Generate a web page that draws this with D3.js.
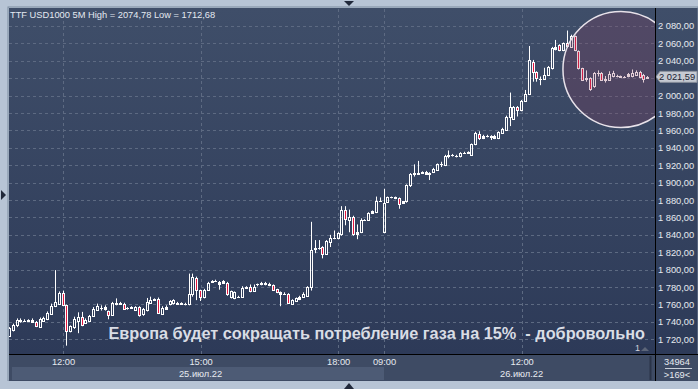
<!DOCTYPE html>
<html>
<head>
<meta charset="utf-8">
<script src="https://cdn.jsdelivr.net/npm/d3@7"></script>
<style>
  body { margin: 0; background: #b7c4d5; }
  svg { display: block; font-family: "Liberation Sans", Arial, sans-serif; }
</style>
</head>
<body>
<svg id="chart" width="698" height="389"></svg>
<script>
// OHLC, 5 minute candles, 25-26 Jul 2022
const opens = [1724,1731,1736,1741,1741.5,1741,1740,1740,1734,1741,1743,1749,1758.5,1761,1773,1759,1730,1734,1741,1745.5,
  1739,1741,1747,1754,1756,1754.5,1752,1748,1760,1761.5,1760,1756,1756,1754,1757,1748.5,1754,1762,1765,1766,
  1749.5,1755,1760,1761.5,1762,1761,1761,1760,1772,1791,1776.5,1769,1777,1786,1787,1783.5,1785,1785,1769,1768,
  1769,1769,1779.5,1780,1776,1783,1783,1783,1782,1782,1777.5,1774,1772,1771.5,1761,1764,1766,1769,1770,1780,
  1824,1825,1825.5,1818.5,1832,1836,1836,1840.5,1869,1857,1861,1840.5,1843.5,1857,1857,1865,1866.5,1879,1843.5,1878,
  1883,1883,1882,1876.5,1878.5,1897,1910,1911,1911,1912.5,1910.5,1912.5,1915,1921,1920,1931,1932,1931,1930.5,1934,
  1934.5,1932,1944,1955.5,1951,1953.5,1953.5,1954,1951.5,1957,1961,1975,1973,1987,1983,1994,2002,2039,2027.5,2019,
  2019,2024,2031.5,2053,2058,2052.5,2060,2056,2068.5,2051.5,2031.5,2019,2020,2011,2025.5,2025.5,2018.5,2018.5,2022.5,2022.5,
  2022,2021.5,2022,2022,2024,2027.5,2023.5,2020];
const highs = [1734,1738,1744,1744,1743,1743,1744,1741,1745,1746,1752,1761,1799.5,1775,1776,1760,1736,1746,1751,1751.5,
  1744,1748,1757,1761,1759,1759,1753,1763,1767,1763,1762,1757,1758,1758,1758,1756,1767.5,1769,1767,1768,
  1758,1759,1765,1766,1763,1762.5,1762,1795.5,1795.5,1792,1777,1778,1786,1788,1788.5,1787,1788,1786,1776,1775,
  1770,1781,1781,1783,1783,1784,1786,1786,1785,1783,1778,1775,1774,1773,1766,1768,1770,1774,1781,1855,
  1834,1834,1827,1834,1840,1845,1843,1873,1873,1869,1862,1852,1859,1858,1866,1868,1884,1883,1893,1884,
  1884,1884,1883,1879,1898,1911,1921,1925,1913,1913.5,1912,1917,1922,1924,1932,1937,1933,1932,1935,1935.5,
  1936,1945,1958.5,1959,1955,1955,1954.5,1955,1959,1963,1977,2003.5,1988,1988,1995,2006.5,2057,2041,2028,2022,
  2032,2034,2056,2064,2059,2061,2074.78,2070,2069,2052,2032,2029,2021,2027,2029,2027,2022.5,2028,2028.5,2024,
  2023,2022.5,2026,2030,2029,2028.5,2025,2022.5];
const lows = [1723,1729,1734,1739,1740,1740,1739,1734,1733,1740,1742,1748,1757,1760,1758,1712.68,1728,1732,1727,1735,
  1738,1740,1746,1753,1753,1753,1743,1747,1759,1760,1754,1754,1755,1753,1746,1747,1752,1761,1764,1749,
  1748,1754,1759,1760,1760,1760,1759,1759,1769,1765,1764,1767,1776,1785,1786,1777,1784,1770,1767,1766,
  1768,1768,1778,1774,1775,1781,1782,1782,1781,1776,1773,1758,1771,1761,1760,1763,1765,1768,1769,1776,
  1819,1823,1813,1817,1826,1835,1835,1839,1851,1843,1839,1835,1842,1856,1856,1864,1865,1878,1842,1877,
  1882,1881,1870,1876,1877,1895,1907,1910,1910,1909,1903,1911,1914,1918,1919,1928,1930,1929,1929,1933,
  1933,1931,1943,1949,1950,1952,1949,1950,1950,1956,1960,1965,1972,1976,1982,1993,2001,2016,2016,2012,
  2018,2023,2030,2052,2051,2051,2055,2055,2051,2030,2017,2016,2005.5,2009,2022,2017,2015,2017,2021,2021,
  2020.5,2020,2021,2021,2023,2020,2015,2019.5];
const closes = [1733,1736,1742.5,1742,1741.5,1742,1742,1735.5,1743,1744,1750,1758,1763,1773,1759,1729.5,1735,1743,1745.5,1736,
  1742,1747,1755,1758,1756.5,1757,1748,1761.5,1762,1761,1755,1756,1757,1757,1748,1754.5,1763,1765,1766,1750.5,
  1756.5,1757,1764,1765,1761,1761.5,1760,1772,1792,1776.5,1769,1777,1785,1787,1787.5,1785.5,1787,1771.5,1775,1774,
  1769,1779.5,1780,1775,1780,1783,1785,1785,1784,1777,1774.5,1771.5,1772.5,1762,1765,1767,1769,1771.5,1780,1823,
  1824.5,1825,1818.5,1833,1836,1836.5,1842,1869,1858,1861,1840.5,1843.5,1857,1857,1865,1867,1879,1879,1877,1883,
  1883,1882.5,1876,1878.5,1897,1910,1911,1910.5,1912,1910,1911,1916,1921,1921,1930.5,1932,1931.5,1930.5,1934,1934.5,
  1935,1944,1956.5,1951,1954,1953.5,1953,1951,1958,1962,1975,1986.5,1987,1983,1994,2002,2041,2027.5,2020,2019,
  2024,2032.5,2054.5,2056,2052.5,2060,2057,2068.5,2052.5,2031.5,2018.5,2020,2008,2025.5,2026,2018.5,2019,2025,2025.5,2022.5,
  2021.5,2021,2025,2026,2027.5,2021,2019,2021.59];

// session times: 25 Jul from 10:50, 26 Jul from 09:00
const pad = n => String(n).padStart(2, '0');
const times = [];
for (let m = 10 * 60 + 50; m < 19 * 60; m += 5) times.push('25 ' + pad(Math.floor(m / 60)) + ':' + pad(m % 60));
for (let m = 9 * 60; m < 14 * 60 + 50; m += 5) times.push('26 ' + pad(Math.floor(m / 60)) + ':' + pad(m % 60));

const timeTicks = ['25 12:00', '25 15:00', '25 18:00', '26 09:00', '26 12:00'];
const dateLabels = [{t: '25 15:00', label: '25.июл.22'}, {t: '26 12:00', label: '26.июл.22'}];
const priceTicks = d3.range(1720, 2081, 20);
const title = 'TTF USD1000 5M High = 2074,78 Low = 1712,68';
const headline = 'Европа будет сокращать потребление газа на 15%  - добровольно';
const lastPrice = 2021.59;

const data = times.map((t, i) => ({t, o: opens[i], h: highs[i], l: lows[i], c: closes[i]}));

const W = 698, H = 389;
const margin = {top: 8, left: 9, right: 43, bottom: 35};
const width = W - margin.left - margin.right;   // 646
const height = H - margin.top - margin.bottom;  // 346

const fmt = d3.formatLocale({decimal: ',', thousands: '\u00a0', grouping: [3], currency: ['', '']}).format(',.2f');

const svg = d3.select('#chart');
const defs = svg.append('defs');
const grad = defs.append('linearGradient').attr('id', 'bg').attr('x1', 0).attr('y1', 0).attr('x2', 0).attr('y2', 1);
grad.append('stop').attr('offset', 0).attr('stop-color', '#3f4e69');
grad.append('stop').attr('offset', 1).attr('stop-color', '#2d3a58');
defs.append('clipPath').attr('id', 'plotclip')
  .append('rect').attr('width', width).attr('height', height);

// frame
svg.append('rect').attr('width', W).attr('height', H).attr('fill', '#b7c4d5');
svg.append('rect').attr('x', margin.left).attr('y', margin.top).attr('width', W - margin.left).attr('height', height)
  .attr('fill', 'url(#bg)');
svg.append('rect').attr('x', margin.left - 1).attr('y', margin.top - 1).attr('width', W - margin.left + 1).attr('height', 374)
  .attr('fill', 'none').attr('stroke', '#7d8ba0');

// frame arrows
svg.append('path').attr('d', 'M344,1 L354,1 L349,6 Z').attr('fill', '#20283a');
svg.append('path').attr('d', 'M1,190 L1,200 L6,195 Z').attr('fill', '#20283a');

const chart = svg.append('g').attr('transform', `translate(${margin.left},${margin.top})`);

const x = d3.scalePoint().domain(times).range([0.5, 638.7]);
const y = d3.scaleLinear().domain([1720, 2080]).range([331.3, 18]);

// grid
chart.append('g').attr('class', 'y-grid')
  .call(d3.axisLeft(y).tickValues(priceTicks).tickSize(-width).tickFormat(''));
const xGrid = chart.append('g').attr('class', 'x-grid').attr('transform', `translate(0,${height})`)
  .call(d3.axisBottom(x).tickValues(timeTicks).tickSize(height).tickSizeOuter(0).tickFormat(''));
xGrid.selectAll('line').attr('y2', -height);
chart.selectAll('.y-grid line, .x-grid line')
  .attr('stroke', '#5d6a82').attr('stroke-dasharray', '3,3').attr('shape-rendering', 'crispEdges');
chart.selectAll('.y-grid .domain, .x-grid .domain').remove();

// candles
const plot = chart.append('g').attr('clip-path', 'url(#plotclip)');
const candles = plot.selectAll('.candle').data(data).join('g').attr('class', 'candle');
candles.each(function (d) {
  const g = d3.select(this);
  const px = Math.floor(x(d.t)) + 0.5;
  const top = Math.round(y(Math.max(d.o, d.c)));
  const bot = Math.round(y(Math.min(d.o, d.c)));
  const up = d.c >= d.o;
  const wick = (a, b) => g.append('line').attr('x1', px).attr('x2', px).attr('y1', a).attr('y2', b)
    .attr('stroke', '#fff').attr('stroke-width', 1);
  wick(y(d.h), top + 0.5);
  wick(bot + 0.5, y(d.l));
  if (bot - top < 1) {
    g.append('line').attr('x1', px - 1.5).attr('x2', px + 1.5).attr('y1', top + 0.5).attr('y2', top + 0.5)
      .attr('stroke', '#fff');
  } else if (bot - top <= 2) {
    g.append('rect').attr('x', px - 1.5).attr('y', top).attr('width', 3).attr('height', bot - top + 1)
      .attr('fill', '#fff');
  } else {
    g.append('rect').attr('x', px - 1).attr('y', top + 0.5).attr('width', 2).attr('height', bot - top)
      .attr('fill', up ? 'none' : '#e3163f').attr('stroke', '#fff').attr('stroke-width', 1);
  }
});

// highlight circle
plot.append('circle')
  .attr('cx', x(times[160])).attr('cy', y(2030)).attr('r', 58)
  .attr('fill', 'rgb(138,60,90)').attr('fill-opacity', 0.25)
  .attr('stroke', '#e8e2ea').attr('stroke-width', 1.5);

// title and headline
chart.append('text').attr('x', 1).attr('y', 10).attr('fill', '#e4e9f1').attr('font-size', 9.3).text(title);
chart.append('text').attr('x', 636).attr('y', 331).attr('text-anchor', 'end').style('white-space', 'pre')
  .attr('fill', '#d9dde5').attr('font-size', 16.3).attr('font-weight', 'bold').text(headline);
chart.append('text').attr('x', 626).attr('y', 343).attr('fill', '#d0d4dc').attr('font-size', 9).text('1');
chart.append('path').attr('d', 'M632,343 L640,343 L636,339 Z').attr('fill', '#5c6578');

// right price axis (tick hidden behind last price marker)
const ly = margin.top + y(lastPrice);
const yAxisG = svg.append('g').attr('transform', `translate(${margin.left + width},${margin.top})`)
  .call(d3.axisRight(y).tickValues(priceTicks.filter(v => Math.abs(y(v) - y(lastPrice)) > 9))
    .tickSize(0).tickPadding(3).tickFormat(fmt));
yAxisG.select('.domain').remove();
yAxisG.selectAll('text').attr('fill', '#e6eaf0').attr('font-size', 9.3).attr('font-family', '"Liberation Sans", Arial, sans-serif');

// last price marker
svg.append('path')
  .attr('d', `M${margin.left + width + 1},${ly} L${margin.left + width + 5},${ly - 5.5} L697,${ly - 5.5} L697,${ly + 5.5} L${margin.left + width + 5},${ly + 5.5} Z`)
  .attr('fill', '#c6cad2').attr('stroke', '#8a909c');
svg.append('text').attr('x', margin.left + width + 4).attr('y', ly).attr('dy', '0.35em')
  .attr('fill', '#1b2232').attr('font-size', 9.3).text(fmt(lastPrice));

// bottom time axis
const axisTop = margin.top + height;
svg.append('rect').attr('x', margin.left).attr('y', axisTop).attr('width', W - margin.left).attr('height', 27)
  .attr('fill', '#3e4b64');
svg.append('rect').attr('x', 12).attr('y', axisTop + 13).attr('width', margin.left + x('26 09:00') - 12).attr('height', 13)
  .attr('fill', '#4d5b75');
const xAxisG = svg.append('g').attr('transform', `translate(${margin.left},${axisTop})`)
  .call(d3.axisBottom(x).tickValues(timeTicks).tickSize(0).tickPadding(4).tickFormat(t => t.slice(3)));
xAxisG.select('.domain').remove();
xAxisG.selectAll('text').attr('fill', '#e6eaf0').attr('font-size', 9.3).attr('font-family', '"Liberation Sans", Arial, sans-serif');
svg.append('g').selectAll('text').data(dateLabels).join('text')
  .attr('x', d => margin.left + x(d.t)).attr('y', axisTop + 23).attr('text-anchor', 'middle')
  .attr('fill', '#e6eaf0').attr('font-size', 9.3).text(d => d.label);

// separators
svg.append('line').attr('x1', margin.left).attr('x2', W).attr('y1', axisTop + 0.5).attr('y2', axisTop + 0.5)
  .attr('stroke', '#000');
svg.append('line').attr('x1', margin.left + width + 0.5).attr('x2', margin.left + width + 0.5)
  .attr('y1', margin.top).attr('y2', axisTop + 27).attr('stroke', '#000');
svg.append('line').attr('x1', 650.5).attr('x2', 650.5).attr('y1', axisTop + 2).attr('y2', axisTop + 26)
  .attr('stroke', '#2a3448').attr('stroke-width', 2);
svg.append('rect').attr('x', 0).attr('y', axisTop + 27).attr('width', W).attr('height', H - axisTop - 27)
  .attr('fill', '#b7c4d5');
svg.append('path').attr('d', 'M344,389 L354,389 L349,383 Z').attr('fill', '#20283a');

// bars counter box
svg.append('text').attr('x', 677).attr('y', axisTop + 11).attr('text-anchor', 'middle')
  .attr('fill', '#e6eaf0').attr('font-size', 9.3).text('34964');
svg.append('line').attr('x1', 665).attr('x2', 692).attr('y1', axisTop + 14.5).attr('y2', axisTop + 14.5)
  .attr('stroke', '#c8ced8');
svg.append('text').attr('x', 677).attr('y', axisTop + 24).attr('text-anchor', 'middle')
  .attr('fill', '#e6eaf0').attr('font-size', 9.3).text('>169<');
</script>
</body>
</html>
